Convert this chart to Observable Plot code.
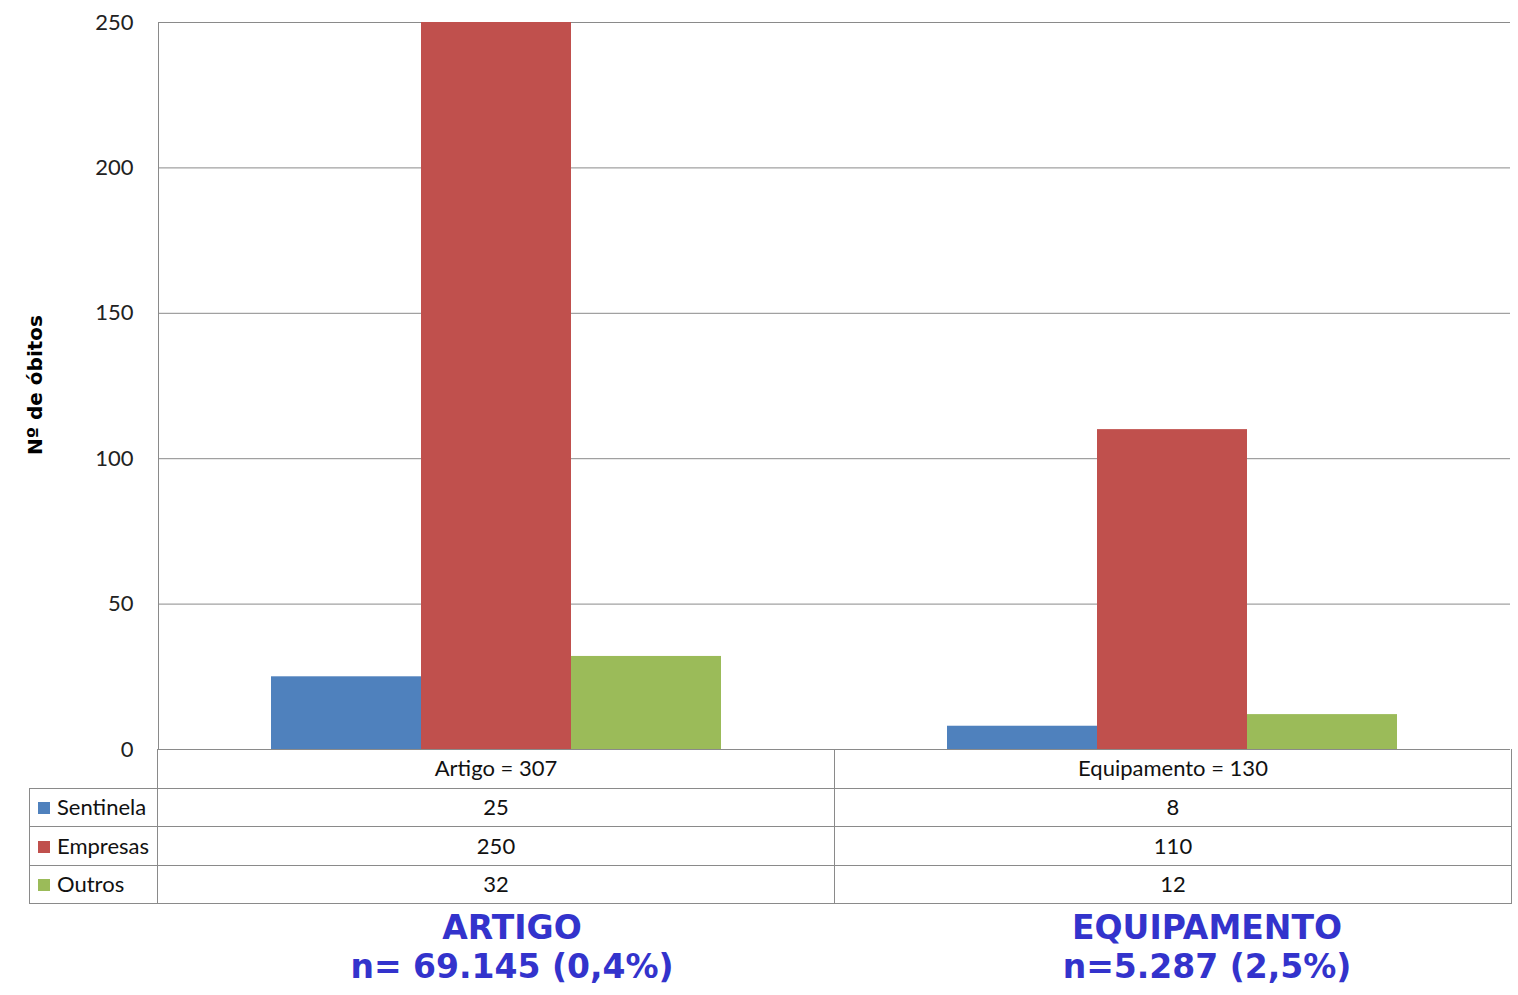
<!DOCTYPE html>
<html>
<head>
<meta charset="utf-8">
<script src="https://cdn.jsdelivr.net/npm/d3@7"></script>
<script src="https://cdn.jsdelivr.net/npm/@observablehq/plot@0.6"></script>
<style>
  html, body { margin: 0; padding: 0; background: #fff; }
  #wrap { position: relative; width: 1518px; height: 995px; overflow: hidden; background: #fff; }
  #chart { position: absolute; left: 0; top: 0; }
  #ylabel { position: absolute; left: 35px; top: 385px; transform: translate(-50%, -50%) rotate(-90deg);
    font-family: "DejaVu Sans", Verdana, sans-serif; font-weight: bold; font-size: 20px; color: #000; white-space: nowrap; }
  table.dt { position: absolute; left: 29px; top: 749px; border-collapse: collapse; table-layout: fixed;
    font-family: Lato, "Open Sans", sans-serif; font-size: 22px; color: #111; }
  table.dt td { border: 1px solid #8a8a8a; padding: 0; text-align: center; vertical-align: middle; white-space: nowrap; line-height: 24px; }
  table.dt td.lab { text-align: left; padding-left: 8px; }
  table.dt td.blank { border-left: none; border-top: none; }
  .sw { display: inline-block; width: 12px; height: 12px; margin-right: 7px; vertical-align: 1px; }
  .title { position: absolute; transform: translateX(-50%); text-align: center; white-space: nowrap;
    font-family: "DejaVu Sans", Verdana, sans-serif; font-weight: bold; font-size: 33px; color: #3333CC; line-height: 39px; }
</style>
</head>
<body>
<div id="wrap">
  <div id="chart"></div>
  <div id="ylabel"></div>
  <table class="dt" id="dt"></table>
</div>
<script>
// ---- data ----
const groups = ["Artigo", "Equipamento"];
const groupLabels = ["Artigo = 307", "Equipamento = 130"];
const series = ["Sentinela", "Empresas", "Outros"];
const seriesColors = ["#4F81BD", "#C0504D", "#9BBB59"];
const sentinela = [25, 8];
const empresas = [250, 110];
const outros = [32, 12];
const yTicks = [0, 50, 100, 150, 200, 250];
const yLabel = "Nº de óbitos";
const titles = ["ARTIGO", "EQUIPAMENTO"];
const subtitles = ["n= 69.145 (0,4%)", "n=5.287 (2,5%)"];

const seriesValues = [sentinela, empresas, outros];
const data = groups.flatMap((g, i) => series.map((s, j) => ({group: g, series: s, value: seriesValues[j][i]})));

const chart = Plot.plot({
  width: 1518,
  height: 752,
  marginLeft: 157,
  marginRight: 8,
  marginTop: 22,
  marginBottom: 3,
  style: {fontFamily: "Lato, 'Open Sans', sans-serif", fontSize: "22px", color: "#222", background: "#fff", overflow: "visible"},
  fx: {domain: groups, padding: 0, axis: null},
  x: {domain: series, paddingInner: 0, paddingOuter: 0.747, axis: null},
  y: {domain: [0, 250], axis: null},
  color: {domain: series, range: seriesColors},
  marks: [
    Plot.ruleY(yTicks, {stroke: "#8a8a8a", strokeWidth: 1}),
    Plot.barY(data, {fx: "group", x: "series", y: "value", fill: "series"}),
    Plot.axisY(yTicks, {tickSize: 0, tickPadding: 25, fontSize: 22, fill: "#222", label: null}),
    Plot.frame({anchor: "left", facetAnchor: "left", stroke: "#8a8a8a", strokeOpacity: 1})
  ]
});
document.getElementById("chart").appendChild(chart);
document.getElementById("ylabel").textContent = yLabel;

// ---- data table ----
const dt = document.getElementById("dt");
const cg = document.createElement("colgroup");
[128, 677, 677].forEach(w => { const c = document.createElement("col"); c.style.width = w + "px"; cg.appendChild(c); });
dt.appendChild(cg);
const hr = document.createElement("tr"); hr.style.height = "39px";
const b = document.createElement("td"); b.className = "blank"; hr.appendChild(b);
groupLabels.forEach(l => { const td = document.createElement("td"); td.textContent = l; td.style.borderTop = "none"; hr.appendChild(td); });
dt.appendChild(hr);
const rowH = [38, 39, 38];
series.forEach((s, j) => {
  const tr = document.createElement("tr"); tr.style.height = rowH[j] + "px";
  const lab = document.createElement("td"); lab.className = "lab";
  const sw = document.createElement("span"); sw.className = "sw"; sw.style.background = seriesColors[j];
  lab.appendChild(sw); lab.appendChild(document.createTextNode(s));
  tr.appendChild(lab);
  seriesValues[j].forEach(v => { const td = document.createElement("td"); td.textContent = v; tr.appendChild(td); });
  dt.appendChild(tr);
});

// ---- titles ----
const centers = [512, 1207];
titles.forEach((t, i) => {
  const d = document.createElement("div"); d.className = "title";
  d.style.left = centers[i] + "px"; d.style.top = "908px";
  d.appendChild(document.createTextNode(t));
  d.appendChild(document.createElement("br"));
  d.appendChild(document.createTextNode(subtitles[i]));
  document.getElementById("wrap").appendChild(d);
});
</script>
</body>
</html>
